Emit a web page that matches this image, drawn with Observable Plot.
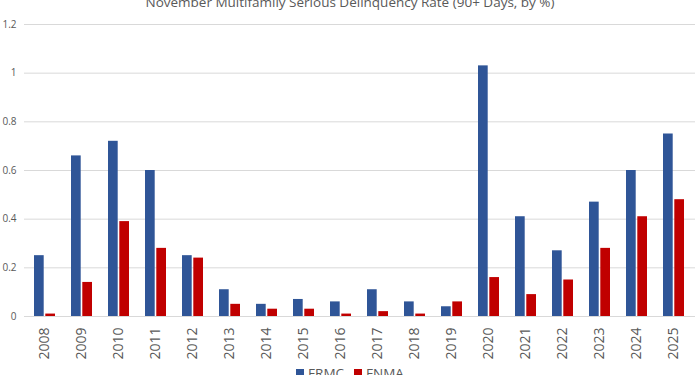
<!DOCTYPE html>
<html><head><meta charset="utf-8">
<script src="https://cdn.jsdelivr.net/npm/d3@7"></script>
<script src="https://cdn.jsdelivr.net/npm/@observablehq/plot@0.6"></script>
<style>
html,body{margin:0;padding:0;background:#fff;}
body{width:700px;height:375px;overflow:hidden;position:relative;font-family:"Open Sans",sans-serif;color:#595959;}
#chart{position:absolute;left:0;top:0;}
#title{position:absolute;left:0;width:700px;top:-7px;text-align:center;font-size:13.5px;color:#595959;white-space:nowrap;}
#legend{position:absolute;left:0;width:700px;top:364px;display:flex;justify-content:center;align-items:center;font-size:13.5px;color:#595959;}
#legend .item{display:flex;align-items:center;margin:0 5px;}
#legend .sw{width:8px;height:8px;margin-right:4px;display:inline-block;}
</style>
</head><body>
<div id="chart"></div>
<div id="title"></div>
<div id="legend"></div>
<script>
const titleText = "November Multifamily Serious Delinquency Rate (90+ Days, by %)";
const years = ["2008","2009","2010","2011","2012","2013","2014","2015","2016","2017","2018","2019","2020","2021","2022","2023","2024","2025"];
const frmc = [0.25,0.66,0.72,0.60,0.25,0.11,0.05,0.07,0.06,0.11,0.06,0.04,1.03,0.41,0.27,0.47,0.60,0.75];
const fnma = [0.01,0.14,0.39,0.28,0.24,0.05,0.03,0.03,0.01,0.02,0.01,0.06,0.16,0.09,0.15,0.28,0.41,0.48];
const seriesNames = ["FRMC","FNMA"];
const seriesColors = ["#2F5597","#C00000"];
const yTicks = [0,0.2,0.4,0.6,0.8,1,1.2];

const dataA = years.map((y,i)=>({year:y, series:seriesNames[0], value:frmc[i]}));
const dataB = years.map((y,i)=>({year:y, series:seriesNames[1], value:fnma[i]}));

document.getElementById("title").textContent = titleText;
const leg = document.getElementById("legend");
seriesNames.forEach((s,i)=>{
  const it = document.createElement("span"); it.className="item";
  const sw = document.createElement("span"); sw.className="sw"; sw.style.background=seriesColors[i];
  const tx = document.createElement("span"); tx.textContent=s;
  it.appendChild(sw); it.appendChild(tx); leg.appendChild(it);
});

const chart = Plot.plot({
  width: 700,
  height: 375,
  marginTop: 24,
  marginBottom: 59,
  marginLeft: 24,
  marginRight: 5,
  style: {fontFamily: "'Open Sans', sans-serif", color: "#595959", background: "transparent"},
  x: {domain: years, paddingInner: 0.42, paddingOuter: 0.21, label: null},
  y: {domain: [0, 1.2], label: null},
  marks: [
    Plot.gridY(yTicks, {stroke: "#d9d9d9", strokeOpacity: 1}),
    Plot.ruleY([0], {stroke: "#d9d9d9", strokeWidth: 1}),
    Plot.barY(dataA, {x: "year", y: "value", fill: seriesColors[0], insetRight: 11.3}),
    Plot.barY(dataB, {x: "year", y: "value", fill: seriesColors[1], insetLeft: 11.3}),
    Plot.axisY(yTicks, {tickSize: 0, tickPadding: 8, fontSize: 10, tickFormat: d => String(d), label: null}),
    Plot.axisX({tickRotate: -90, tickSize: 0, tickPadding: 11, fontSize: 14, label: null})
  ]
});
document.getElementById("chart").appendChild(chart);
</script>
</body></html>
